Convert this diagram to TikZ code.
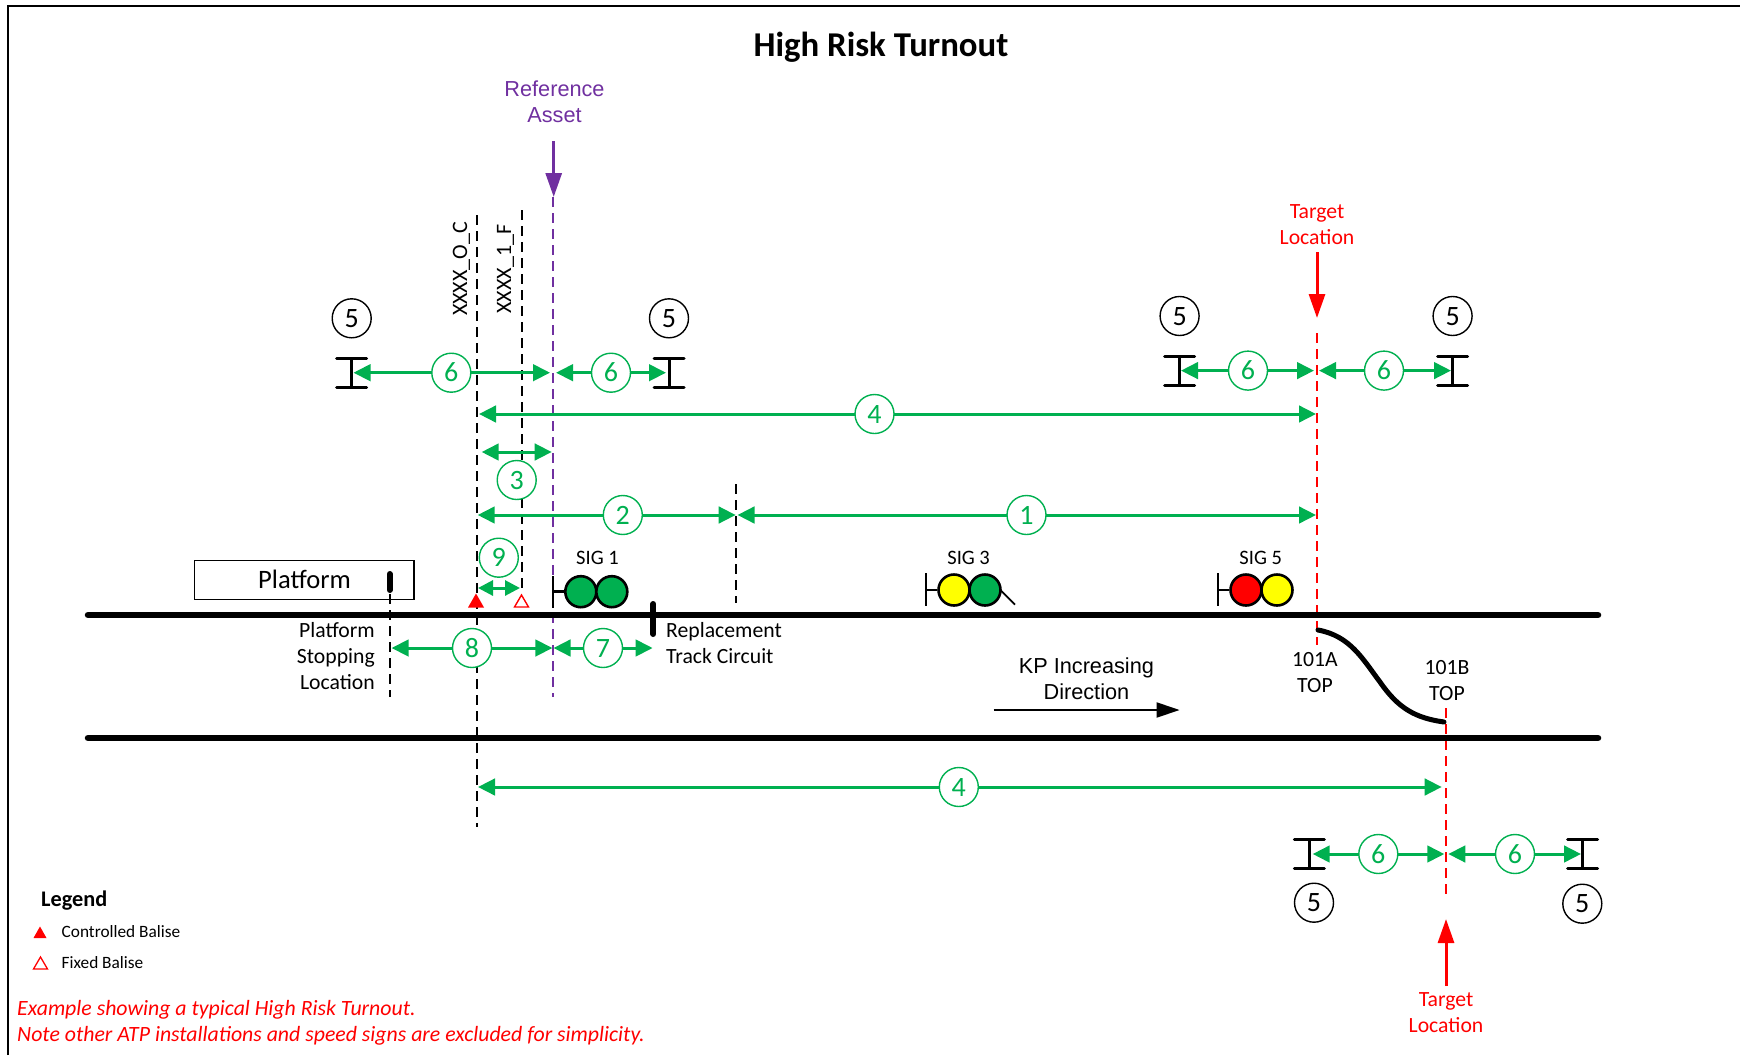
\documentclass[tikz,border=0pt]{standalone}
\usepackage{fontspec}
\setmainfont{Carlito}
\newfontfamily\arialf{Liberation Sans}
\usetikzlibrary{arrows.meta}
\definecolor{gr}{HTML}{00B050}
\definecolor{pu}{HTML}{7030A0}
\definecolor{rd}{HTML}{FF0000}
\definecolor{yl}{HTML}{FFFF00}
\newcommand{\fs}[1]{\fontsize{#1}{#1}\selectfont}
\newcommand{\dimline}[6]{%
  \coordinate (#1a) at (#2,#4);
  \coordinate (#1b) at (#3,#4);
  \draw[dimarrow] (#1a) -- (#1b);
  \node[numg] (#1n) at (#5,#4) {#6};}
\newcommand{\vdashed}[5]{%
  \coordinate (#1a) at (#2,#3);
  \coordinate (#1b) at (#2,#4);
  \draw[#5] (#1a) -- (#1b);}
\newcommand{\isign}[4]{%
  \coordinate (#1t) at (#2,#3);
  \coordinate (#1b) at (#2,#4);
  \draw[isgn] (#1t) -- (#1b);
  \draw[isgn,line cap=round] ([xshift=-15pt]#1t) -- ([xshift=15pt]#1t);
  \draw[isgn,line cap=round] ([xshift=-15pt]#1b) -- ([xshift=15pt]#1b);}
\newcommand{\sigpost}[7]{%
  \coordinate (#1t) at (#2,#3);
  \coordinate (#1b) at (#2,#4);
  \draw[sigl] (#1t) -- (#1b);
  \node[lens,fill=#6] (#1x) at (#2+28,#5) {};
  \node[lens,fill=#7] (#1y) at (#2+59,#5) {};
  \coordinate (#1m) at (#2,#5);
  \draw[sigl] (#1m) -- (#1x.west);}
\tikzset{
  dimarrow/.style={draw=gr,line width=3pt,{Triangle[length=17pt,width=16.5pt]}-{Triangle[length=17pt,width=16.5pt]}},
  numg/.style={circle,draw=gr,line width=1.4pt,fill=white,text=gr,inner sep=0pt,minimum size=39pt,text height=18pt,text depth=0pt,font=\fs{28}},
  numk/.style={circle,draw=black,line width=1.4pt,fill=white,text=black,inner sep=0pt,minimum size=39pt,text height=18pt,text depth=0pt,font=\fs{28}},
  blkdash/.style={draw=black,line width=2pt,dash pattern=on 10pt off 6pt},
  purdash/.style={draw=pu,line width=1.7pt,dash pattern=on 10pt off 6pt},
  reddash/.style={draw=rd,line width=1.7pt,dash pattern=on 10pt off 6pt},
  isgn/.style={draw=black,line width=3pt},
  sigl/.style={draw=black,line width=2.5pt},
  lens/.style={circle,draw=black,line width=2.6pt,inner sep=0pt,minimum size=31pt},
  track/.style={draw=black,line width=6.5pt,line cap=round},
  callout/.style={line width=3pt,-{Triangle[length=24pt,width=16pt]}},
  txt/.style={inner sep=0pt,text height=14pt,text depth=0pt,font=\fs{21.7}},
  sgl/.style={inner sep=0pt,text height=14pt,text depth=0pt,font=\fs{20.5}},
  arl/.style={inner sep=0pt,text height=15.5pt,text depth=0pt,font=\arialf\fs{21.7}},
  smalltxt/.style={inner sep=0pt,anchor=west,text height=11pt,text depth=0pt,font=\fs{17.3}},
  notetxt/.style={inner sep=0pt,anchor=west,text=rd,text height=14pt,text depth=0pt,font=\itshape\fs{21.8}},
}
\begin{document}
\begin{tikzpicture}[x=1pt,y=-1pt]
\useasboundingbox (0,0) rectangle (1740,1055);
% frame
\coordinate (fa) at (8,1055); \coordinate (fb) at (8,6); \coordinate (fc) at (1740,6);
\draw[line width=1.6pt] (fa) -- (fb) -- (fc);
\node[inner sep=0pt,text height=22pt,text depth=0pt,font=\bfseries\fs{34.8}] (title) at (881,45.5) {High Risk Turnout};
% vertical dashed lines
\vdashed{vc}{476.5}{215}{827}{blkdash}
\vdashed{vf}{521.5}{210}{590}{blkdash}
\vdashed{vp}{553}{197}{697}{purdash}
\vdashed{vs}{389.7}{594}{697}{blkdash}
\vdashed{vm}{736}{484}{603}{blkdash}
\vdashed{ra}{1317}{333}{645}{reddash}
\vdashed{rb}{1446}{708}{897}{reddash}
% platform
\node[draw=black,line width=1.3pt,minimum width=219.5pt,minimum height=39.5pt,inner sep=0pt] (plat) at (304.2,580) {};
\node[inner sep=0pt,text height=17pt,text depth=0pt,font=\fs{26.6}] (plattxt) at (304.5,580) {Platform};
\coordinate (ma) at (389.7,574); \coordinate (mb) at (389.7,590);
\draw[line width=6pt,line cap=round] (ma) -- (mb);
% tracks
\coordinate (t1a) at (88,615); \coordinate (t1b) at (1598,615);
\coordinate (t2a) at (88,738); \coordinate (t2b) at (1598,738);
\draw[track] (t1a) -- (t1b);
\draw[track] (t2a) -- (t2b);
% turnout
\coordinate (ta) at (1318,630); \coordinate (tm) at (1380,682); \coordinate (tb) at (1444,722);
\draw[line width=5pt,line cap=round] (ta) .. controls (1350,636) and (1362,658) .. (tm) .. controls (1398,708) and (1415,718) .. (tb);
% IRJ
\coordinate (ja) at (653.4,604); \coordinate (jb) at (653.4,634);
\draw[line width=6pt,line cap=round] (ja) -- (jb);
% balises
\coordinate (b1a) at (476,593.5); \coordinate (b1b) at (468,607.5); \coordinate (b1c) at (484,607.5);
\fill[rd] (b1a) -- (b1b) -- (b1c) -- cycle;
\coordinate (b2a) at (521.5,595); \coordinate (b2b) at (514.5,607); \coordinate (b2c) at (528.5,607);
\draw[rd,line width=1.4pt] (b2a) -- (b2b) -- (b2c) -- cycle;
% signals
\sigpost{sa}{552.8}{576}{608}{591.7}{gr}{gr}
\sigpost{sb}{926}{573}{606}{590}{yl}{gr}
\sigpost{sc}{1218}{573}{606}{590}{rd}{yl}
\coordinate (da) at (1001,590.7); \coordinate (db) at (1015,604.7);
\draw[line width=1.8pt] (da) -- (db);
\node[sgl] (sl1) at (597.5,557.5) {SIG 1};
\node[sgl] (sl3) at (968.6,557) {SIG 3};
\node[sgl] (sl5) at (1260.7,557) {SIG 5};
% rotated ids
\node[inner sep=0pt,font=\fs{22},rotate=90] (xo) at (461.5,269) {XXXX\_O\_C};
\node[inner sep=0pt,font=\fs{22},rotate=90] (xf) at (505.5,269) {XXXX\_1\_F};
% I signs
\isign{ia}{351.7}{358}{387.7}
\isign{ib}{669}{358}{387.7}
\isign{ic}{1179.6}{356}{385}
\isign{id}{1452.6}{356}{385}
\isign{ie}{1309.3}{839.3}{868.7}
\isign{if}{1582.7}{839.3}{868.7}
% black circles
\node[numk] (ka) at (351.7,318.3) {5};
\node[numk] (kb) at (669,318.3) {5};
\node[numk] (kc) at (1179.6,316) {5};
\node[numk] (kd) at (1452.6,316) {5};
\node[numk] (ke) at (1314,902.7) {5};
\node[numk] (kf) at (1582.3,903.7) {5};
% dimensions
\dimline{d6a}{353.5}{550}{372.7}{451.3}{6}
\dimline{d6b}{556}{666}{372.7}{611}{6}
\dimline{d6c}{1181}{1314}{370.6}{1248}{6}
\dimline{d6d}{1319}{1451}{370.6}{1384}{6}
\dimline{d4a}{479}{1316}{414}{874.5}{4}
\dimline{d2}{477.7}{735.7}{515}{622.8}{2}
\dimline{d1}{737.5}{1316}{515}{1026.5}{1}
\dimline{d8}{391.6}{552.4}{648}{472}{8}
\dimline{d7}{553.5}{652.6}{648}{603}{7}
\dimline{d4b}{478}{1441.7}{787}{958.8}{4}
\dimline{d6e}{1312.7}{1444.3}{854}{1378.3}{6}
\dimline{d6f}{1448.3}{1581}{854}{1515}{6}
\coordinate (d3a) at (481.7,452); \coordinate (d3b) at (551.7,452);
\draw[dimarrow] (d3a) -- (d3b);
\node[numg] (d3n) at (516.7,480) {3};
\coordinate (d9a) at (478,588); \coordinate (d9b) at (520,588);
\draw[dimarrow,{Triangle[length=15pt,width=15pt]}-{Triangle[length=15pt,width=15pt]}] (d9a) -- (d9b);
\node[numg] (d9n) at (498.8,557.7) {9};
% labels
\node[txt,anchor=west] (rt1) at (666,630.5) {Replacement};
\node[txt,anchor=west] (rt2) at (666,656) {Track Circuit};
\node[txt,anchor=east] (pl1) at (375,630.5) {Platform};
\node[txt,anchor=east] (pl2) at (375,656) {Stopping};
\node[txt,anchor=east] (pl3) at (375,682) {Location};
\node[txt] (ta1) at (1315,659) {101A};
\node[txt] (ta2) at (1315,685) {TOP};
\node[txt] (tb1) at (1447,667) {101B};
\node[txt] (tb2) at (1447,693) {TOP};
\node[arl] (kp1) at (1086.4,666) {KP Increasing};
\node[arl] (kp2) at (1086.4,692) {Direction};
\coordinate (kpa) at (993.6,710); \coordinate (kpb) at (1179.6,710);
\draw[line width=2pt,-{Triangle[length=23pt,width=15pt]}] (kpa) -- (kpb);
% reference asset
\node[arl,text=pu] (ra1) at (554.5,88.8) {Reference};
\node[arl,text=pu] (ra2) at (554.5,114.5) {Asset};
\coordinate (raa) at (553.7,141); \coordinate (rab) at (553.7,197);
\draw[callout,draw=pu,fill=pu] (raa) -- (rab);
% target top
\node[txt,text=rd] (tt1) at (1317,211) {Target};
\node[txt,text=rd] (tt2) at (1317,237) {Location};
\coordinate (tta) at (1317,252); \coordinate (ttb) at (1317,318);
\draw[callout,draw=rd,fill=rd] (tta) -- (ttb);
% target bottom
\node[txt,text=rd] (tu1) at (1446,999.5) {Target};
\node[txt,text=rd] (tu2) at (1446,1025.5) {Location};
\coordinate (tua) at (1446,986); \coordinate (tub) at (1446,919);
\draw[callout,draw=rd,fill=rd] (tua) -- (tub);
% legend
\node[inner sep=0pt,anchor=west,text height=14pt,text depth=0pt,font=\bfseries\fs{22.3}] (lg) at (41,899.5) {Legend};
\coordinate (l1a) at (40,926.5); \coordinate (l1b) at (33.5,938); \coordinate (l1c) at (46.5,938);
\fill[rd] (l1a) -- (l1b) -- (l1c) -- cycle;
\node[smalltxt] (lt1) at (61.5,932) {Controlled Balise};
\coordinate (l2a) at (40.5,957); \coordinate (l2b) at (33.5,969); \coordinate (l2c) at (47.5,969);
\draw[rd,line width=1.3pt] (l2a) -- (l2b) -- (l2c) -- cycle;
\node[smalltxt] (lt2) at (61.5,962.5) {Fixed Balise};
\node[notetxt] (n1) at (17,1008.5) {Example showing a typical High Risk Turnout.};
\node[notetxt] (n2) at (17,1034.3) {Note other ATP installations and speed signs are excluded for simplicity.};
\end{tikzpicture}
\end{document}
